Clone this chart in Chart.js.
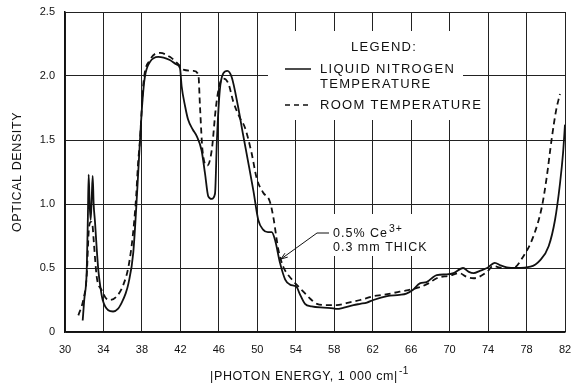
<!DOCTYPE html>
<html>
<head>
<meta charset="utf-8">
<script src="https://cdn.jsdelivr.net/npm/chart.js@4/dist/chart.umd.min.js"></script>
<style>
  html, body { margin: 0; padding: 0; background: #fff; }
  #wrap { width: 571px; height: 386px; }
</style>
</head>
<body>
<div id="wrap"><canvas id="c" width="571" height="386"></canvas></div>
<script>
// ---- data ----
const xTicks = [30, 34, 38, 42, 46, 50, 54, 58, 62, 66, 70, 74, 78, 82];
const yTicks = [0, 0.5, 1.0, 1.5, 2.0, 2.5];

const lnEnergy = [31.84, 32.0, 32.26, 32.38, 32.46, 32.56, 32.67, 32.78, 32.88, 32.98, 33.12, 33.3, 33.47, 33.7, 33.92,
  34.5, 35.0, 35.5, 35.9, 36.3, 36.6, 37.1, 37.5, 37.8, 38.05, 38.3, 38.84, 39.7, 40.9, 41.6, 41.96, 42.13, 42.5, 42.8,
  43.3, 43.7, 44.2, 44.56, 44.9, 45.26, 45.6, 45.8, 46.1, 46.46, 46.88, 47.34, 48.0, 48.5, 49.07, 49.6, 50.1, 50.6,
  51.1, 51.5, 51.84, 52.36, 52.9, 53.4, 54.1, 54.4, 54.96, 55.65, 56.9, 57.9, 58.25, 59.0, 60.0, 60.7, 61.4, 62.07,
  63.5, 64.8, 65.5, 66.2, 66.9, 67.6, 68.66, 69.7, 70.4, 71.4, 72.0, 72.5, 73.2, 73.9, 74.7, 75.3, 75.94, 76.98,
  78.4, 79.4, 80.3, 80.96, 81.48, 81.8, 82.0];
const lnDensity = [0.09, 0.25, 0.48, 0.90, 1.23, 1.00, 0.875, 1.05, 1.22, 1.00, 0.86, 0.65, 0.48, 0.34, 0.25,
  0.17, 0.16, 0.18, 0.23, 0.30, 0.38, 0.62, 1.09, 1.50, 1.80, 1.99, 2.11, 2.15, 2.125, 2.09, 2.06, 1.92, 1.76, 1.66,
  1.58, 1.53, 1.42, 1.24, 1.06, 1.04, 1.08, 1.50, 1.89, 2.02, 2.04, 1.99, 1.76, 1.55, 1.32, 1.10, 0.875, 0.80,
  0.78, 0.78, 0.72, 0.54, 0.41, 0.37, 0.35, 0.30, 0.22, 0.20, 0.19, 0.185, 0.18, 0.19, 0.21, 0.22, 0.23, 0.25,
  0.28, 0.29, 0.30, 0.33, 0.38, 0.39, 0.445, 0.45, 0.46, 0.50, 0.47, 0.46, 0.48, 0.50, 0.54, 0.52, 0.505, 0.50,
  0.51, 0.56, 0.67, 0.875, 1.16, 1.40, 1.62];

const rtEnergy = [31.39, 31.9, 32.25, 32.5, 32.7, 32.85, 33.0, 33.3, 33.8, 34.3, 34.7, 35.4, 36.07, 36.6, 37.04,
  37.4, 37.6, 37.8, 38.15, 38.84, 39.9, 40.9, 41.8, 42.3, 43.35, 43.87, 44.04, 44.3, 44.8, 45.26, 45.7, 46.1, 46.5,
  47.0, 47.5, 48.2, 48.7, 49.4, 49.94, 50.6, 51.3, 51.66, 52.2, 52.7, 53.6, 54.6, 55.5, 56.2, 57.2, 58.25, 59.5,
  60.7, 62.07, 63.1, 64.8, 66.9, 67.8, 68.66, 70.0, 71.0, 71.8, 72.5, 73.9, 74.5, 75.5, 76.6, 77.66, 78.7, 79.6,
  80.1, 80.6, 81.07, 81.48];
const rtDensity = [0.13, 0.25, 0.43, 0.82, 0.86, 0.84, 0.70, 0.43, 0.33, 0.26, 0.25, 0.28, 0.37, 0.51, 0.745,
  1.06, 1.32, 1.50, 1.94, 2.125, 2.18, 2.15, 2.09, 2.05, 2.04, 2.01, 1.76, 1.42, 1.30, 1.42, 1.76, 1.94, 1.98,
  1.94, 1.80, 1.67, 1.60, 1.40, 1.20, 1.09, 1.02, 0.90, 0.64, 0.51, 0.41, 0.33, 0.26, 0.22, 0.21, 0.21, 0.23,
  0.25, 0.28, 0.29, 0.315, 0.35, 0.38, 0.42, 0.44, 0.46, 0.43, 0.42, 0.47, 0.515, 0.50, 0.50, 0.59, 0.745, 0.98,
  1.21, 1.50, 1.73, 1.86];

const seriesNames = ['LIQUID NITROGEN TEMPERATURE', 'ROOM TEMPERATURE'];
const xTitle = '|PHOTON ENERGY, 1 000 cm|';
const xTitleSup = '-1';
const yTitle = 'OPTICAL DENSITY';

const toPts = (xs, ys) => xs.map((x, i) => ({ x: x, y: ys[i] }));
const FONT = '"Liberation Sans", Arial, sans-serif';

const annotationPlugin = {
  id: 'annot',
  afterDraw(chart) {
    const ctx = chart.ctx;
    const hasLS = 'letterSpacing' in ctx;
    ctx.save();
    // legend box (hides grid)
    ctx.fillStyle = '#fff';
    ctx.fillRect(268, 31, 195, 89);
    ctx.fillRect(463, 94, 22, 22);
    ctx.fillStyle = '#111';
    ctx.strokeStyle = '#111';
    ctx.font = '13px ' + FONT;
    ctx.textBaseline = 'middle';
    ctx.textAlign = 'left';
    if (hasLS) ctx.letterSpacing = '1.3px';
    ctx.fillText('LEGEND:', 351, 47);
    ctx.fillText('LIQUID NITROGEN', 320, 69);
    ctx.fillText('TEMPERATURE', 320, 84);
    ctx.fillText('ROOM TEMPERATURE', 320, 105);
    ctx.lineWidth = 1.5;
    ctx.setLineDash([]);
    ctx.beginPath(); ctx.moveTo(285, 69); ctx.lineTo(311, 69); ctx.stroke();
    ctx.setLineDash([5, 4]);
    ctx.beginPath(); ctx.moveTo(285, 105); ctx.lineTo(311, 105); ctx.stroke();
    ctx.setLineDash([]);

    // annotation box
    ctx.fillStyle = '#fff';
    ctx.fillRect(331, 214, 108, 42);
    ctx.fillStyle = '#111';
    if (hasLS) ctx.letterSpacing = '1px';
    ctx.font = '12.5px ' + FONT;
    ctx.fillText('0.5% Ce', 333, 234);
    const w = ctx.measureText('0.5% Ce').width;
    ctx.font = '10.5px ' + FONT;
    ctx.fillText('3+', 333 + w + 1, 229);
    ctx.font = '12.5px ' + FONT;
    ctx.fillText('0.3 mm THICK', 333, 248);
    // leader with arrow
    ctx.lineWidth = 1;
    ctx.beginPath(); ctx.moveTo(329, 233); ctx.lineTo(317, 233); ctx.lineTo(281, 259); ctx.stroke();
    const ang = Math.atan2(259 - 233, 281 - 317);
    ctx.beginPath();
    ctx.moveTo(281, 259);
    ctx.lineTo(281 - 7 * Math.cos(ang - 0.35), 259 - 7 * Math.sin(ang - 0.35));
    ctx.moveTo(281, 259);
    ctx.lineTo(281 - 7 * Math.cos(ang + 0.35), 259 - 7 * Math.sin(ang + 0.35));
    ctx.stroke();

    // axis titles
    if (hasLS) ctx.letterSpacing = '0.6px';
    ctx.font = '12.5px ' + FONT;
    ctx.textAlign = 'left';
    const tw = ctx.measureText(xTitle).width;
    const tx = 304 - tw / 2;
    ctx.fillText(xTitle, tx, 377);
    ctx.font = '10px ' + FONT;
    ctx.fillText(xTitleSup, tx + tw + 1, 371);
    ctx.font = '12.5px ' + FONT;
    ctx.translate(18, 172);
    ctx.rotate(-Math.PI / 2);
    ctx.textAlign = 'center';
    ctx.fillText(yTitle, 0, 0);
    ctx.restore();
  }
};

new Chart(document.getElementById('c'), {
  type: 'scatter',
  data: {
    datasets: [
      { label: seriesNames[0], data: toPts(lnEnergy, lnDensity), showLine: true, borderColor: '#111',
        borderWidth: 1.8, pointRadius: 0, cubicInterpolationMode: 'monotone' },
      { label: seriesNames[1], data: toPts(rtEnergy, rtDensity), showLine: true, borderColor: '#111',
        borderWidth: 1.8, borderDash: [6, 4], pointRadius: 0, cubicInterpolationMode: 'monotone' }
    ]
  },
  options: {
    responsive: false,
    devicePixelRatio: 1,
    animation: false,
    layout: { padding: { top: 12, right: 6, left: 0, bottom: 0 } },
    plugins: { legend: { display: false }, tooltip: { enabled: false } },
    scales: {
      x: {
        type: 'linear', min: 30, max: 82,
        afterBuildTicks: (s) => { s.ticks = xTicks.map(v => ({ value: v })); },
        afterFit: (s) => { s.height = 54; s.paddingLeft = 0; s.paddingRight = 0; },
        grid: { color: '#222', lineWidth: 1, drawTicks: false },
        border: { color: '#111', width: 1.5 },
        ticks: { color: '#111', font: { family: FONT, size: 11 }, padding: 11, maxRotation: 0, autoSkip: false }
      },
      y: {
        type: 'linear', min: 0, max: 2.5,
        afterBuildTicks: (s) => { s.ticks = yTicks.map(v => ({ value: v })); },
        afterFit: (s) => { s.width = 65; s.paddingTop = 0; s.paddingBottom = 0; },
        grid: { color: '#222', lineWidth: 1, drawTicks: false },
        border: { color: '#111', width: 1.5 },
        ticks: { color: '#111', font: { family: FONT, size: 11 }, padding: 10,
          callback: (v) => v === 0 ? '0' : v.toFixed(1) }
      }
    }
  },
  plugins: [annotationPlugin]
});
</script>
</body>
</html>
